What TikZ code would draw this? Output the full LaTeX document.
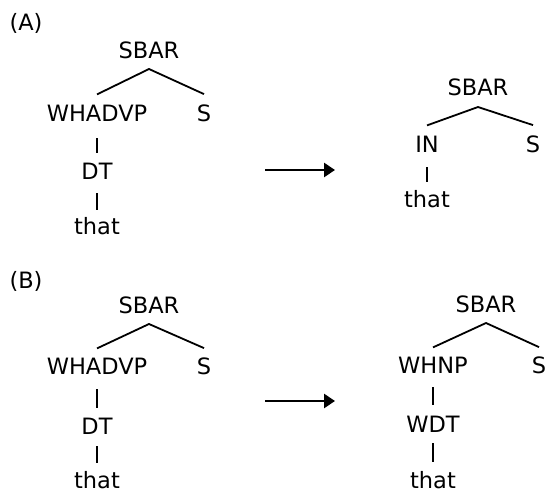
\documentclass[tikz,border=0pt]{standalone}
\usepackage{fontspec}
\setmainfont{DejaVu Sans}
\usetikzlibrary{arrows.meta,calc}
\begin{document}
\begin{tikzpicture}[x=1pt,y=-1pt,
  lab/.style={anchor=base,inner sep=0pt,font=\fontsize{22.5pt}{27pt}\selectfont},
  edge/.style={line width=1.8pt},
  bigarrow/.style={line width=2.8pt,-{Triangle[length=11pt,width=14pt]}}]
\useasboundingbox (0,0) rectangle (548,493);
% ---------- (A) ----------
\node[lab] (labA) at (26,30) {(A)};
\node[lab] (sa) at (149,58) {SBAR};
\node[lab] (wa) at (97,121) {WHADVP};
\node[lab] (s1) at (204,121) {S};
\node[lab] (da) at (97,179) {DT};
\node[lab] (ta) at (97,234) {that};
\draw[edge] ([yshift=10pt]wa.north) -- ([yshift=-11pt]sa.base) -- ([yshift=10pt]s1.north);
\draw[edge] ([yshift=-17pt]wa.base) -- ([yshift=9pt]da.north);
\draw[edge] ([yshift=-14pt]da.base) -- ([yshift=7pt]ta.north);
\coordinate (a1) at (265,170);
\coordinate (a2) at (335,170);
\draw[bigarrow] (a1) -- (a2);
\node[lab] (sb) at (478,95) {SBAR};
\node[lab] (ina) at (427,152) {IN};
\node[lab] (s2) at (533,152) {S};
\node[lab] (tb) at (427,207) {that};
\draw[edge] ([yshift=10pt]ina.north) -- ([yshift=-12pt]sb.base) -- ([yshift=10pt]s2.north);
\draw[edge] ([yshift=-15pt]ina.base) -- ([yshift=8pt]tb.north);
% ---------- (B) ----------
\node[lab] (labB) at (26,288) {(B)};
\node[lab] (sc) at (149,313) {SBAR};
\node[lab] (wc) at (97,374) {WHADVP};
\node[lab] (s3) at (204,374) {S};
\node[lab] (dc) at (97,434) {DT};
\node[lab] (tc) at (97,488) {that};
\draw[edge] ([yshift=9pt]wc.north) -- ([yshift=-11pt]sc.base) -- ([yshift=9pt]s3.north);
\draw[edge] ([yshift=-15pt]wc.base) -- ([yshift=9.5pt]dc.north);
\draw[edge] ([yshift=-12pt]dc.base) -- ([yshift=8pt]tc.north);
\coordinate (b1) at (265,401);
\coordinate (b2) at (335,401);
\draw[bigarrow] (b1) -- (b2);
\node[lab] (sd) at (486,312) {SBAR};
\node[lab] (wd) at (433,373) {WHNP};
\node[lab] (s4) at (539,373) {S};
\node[lab] (dd) at (433,432) {WDT};
\node[lab] (td) at (433,488) {that};
\draw[edge] ([yshift=9pt]wd.north) -- ([yshift=-11pt]sd.base) -- ([yshift=9pt]s4.north);
\draw[edge] ([yshift=-14pt]wd.base) -- ([yshift=10.5pt]dd.north);
\draw[edge] ([yshift=-11pt]dd.base) -- ([yshift=9pt]td.north);
\end{tikzpicture}
\end{document}
